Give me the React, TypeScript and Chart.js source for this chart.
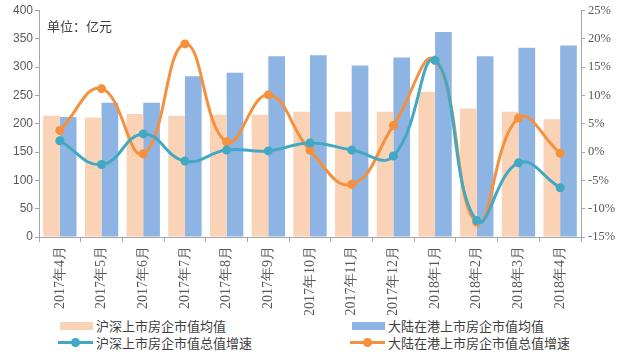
import React, { useEffect, useRef } from "react";
import { Chart, registerables } from "chart.js";

Chart.register(...registerables);

const categories = ["2017年4月", "2017年5月", "2017年6月", "2017年7月", "2017年8月", "2017年9月", "2017年10月", "2017年11月", "2017年12月", "2018年1月", "2018年2月", "2018年3月", "2018年4月"];
const shszAvg = [214, 211, 217, 214, 216, 216, 221, 221, 221, 256, 227, 221, 208];
const hkAvg = [212, 237, 237, 284, 290, 319, 321, 303, 317, 362, 319, 334, 338];
const shszGrowth = [2.0, -2.2, 3.2, -1.6, 0.35, 0.2, 1.6, 0.35, -0.7, 16.2, -12.1, -1.9, -6.3];
const hkGrowth = [3.8, 11.2, -0.3, 19.1, 1.8, 10.1, 0.3, -5.7, 4.7, 16.2, -12.4, 6.0, -0.2];

const names = ["沪深上市房企市值均值", "大陆在港上市房企市值均值", "沪深上市房企市值总值增速", "大陆在港上市房企市值总值增速"];
const colors = ["#FAD3B6", "#8DB4E2", "#43A8C3", "#F5913E"];

export default function App() {
  const ref = useRef<HTMLCanvasElement>(null);
  useEffect(() => {
    document.body.style.margin = "0";
    const axisColor = "#A6A6A6";
    const tickColor = "#595959";
    const chart = new Chart(ref.current!, {
      type: "bar",
      data: {
        labels: categories,
        datasets: [
          { type: "bar", label: names[0], data: shszAvg, yAxisID: "y", backgroundColor: colors[0], categoryPercentage: 0.8, barPercentage: 1.0, order: 1 },
          { type: "bar", label: names[1], data: hkAvg, yAxisID: "y", backgroundColor: colors[1], categoryPercentage: 0.8, barPercentage: 1.0, order: 1 },
          { type: "line", label: names[2], data: shszGrowth, yAxisID: "y1", borderColor: colors[2], backgroundColor: colors[2], borderWidth: 3, pointRadius: 4.5, pointBackgroundColor: colors[2], pointBorderWidth: 0, tension: 0.45, order: 0 },
          { type: "line", label: names[3], data: hkGrowth, yAxisID: "y1", borderColor: colors[3], backgroundColor: colors[3], borderWidth: 3, pointRadius: 4.5, pointBackgroundColor: colors[3], pointBorderWidth: 0, tension: 0.45, order: 0 },
        ],
      },
      options: {
        responsive: false,
        animation: false,
        layout: { padding: { top: 9, left: 0, right: 0, bottom: 0 } },
        plugins: { legend: { display: false }, tooltip: { enabled: false } },
        scales: {
          x: {
            offset: true,
            grid: { display: true, drawOnChartArea: false, offset: true, tickLength: 5, color: axisColor },
            border: { color: axisColor },
            ticks: { color: tickColor, maxRotation: 90, minRotation: 90, font: { family: "Liberation Serif", size: 14 }, padding: 4 },
            afterFit: (s: any) => { s.height = 78; },
          },
          y: {
            position: "left",
            min: 0,
            max: 400,
            grid: { display: true, drawOnChartArea: false, tickLength: 4, color: axisColor },
            border: { color: axisColor },
            ticks: { stepSize: 50, color: tickColor, font: { family: "Liberation Sans", size: 12 }, padding: 2 },
            afterFit: (s: any) => { s.width = 39; },
          },
          y1: {
            position: "right",
            min: -15,
            max: 25,
            grid: { display: true, drawOnChartArea: false, tickLength: 4, color: axisColor },
            border: { color: axisColor },
            ticks: { stepSize: 5, color: tickColor, font: { family: "Liberation Serif", size: 12.5 }, padding: 3, callback: (v: any) => v + "%" },
            afterFit: (s: any) => { s.width = 48; },
          },
        },
      },
    });
    return () => chart.destroy();
  }, []);

  const legendItem = (i: number, left: number, top: number, isLine: boolean) => (
    <div style={{ position: "absolute", left, top, display: "flex", alignItems: "center", fontFamily: "'Noto Sans CJK SC', sans-serif", fontSize: 13, color: "#404040", whiteSpace: "nowrap" }}>
      {isLine ? (
        <div style={{ position: "relative", width: 35, height: 10, marginRight: 3 }}>
          <div style={{ position: "absolute", left: 0, top: 3.5, width: 35, height: 3, background: colors[i] }} />
          <div style={{ position: "absolute", left: 13, top: 0.5, width: 9, height: 9, borderRadius: 5, background: colors[i] }} />
        </div>
      ) : (
        <div style={{ width: 33, height: 8, background: colors[i], marginLeft: 2, marginRight: 3 }} />
      )}
      <span>{names[i]}</span>
    </div>
  );

  return (
    <div style={{ position: "relative", width: 629, height: 355, background: "#fff" }}>
      <canvas ref={ref} width={629} height={315} style={{ position: "absolute", left: 0, top: 0 }} />
      <div style={{ position: "absolute", left: 47, top: 16, fontFamily: "'Noto Sans CJK SC', sans-serif", fontSize: 13, color: "#404040" }}>单位：亿元</div>
      {legendItem(0, 58, 316, false)}
      {legendItem(1, 350, 316, false)}
      {legendItem(2, 58, 333, true)}
      {legendItem(3, 350, 333, true)}
    </div>
  );
}
